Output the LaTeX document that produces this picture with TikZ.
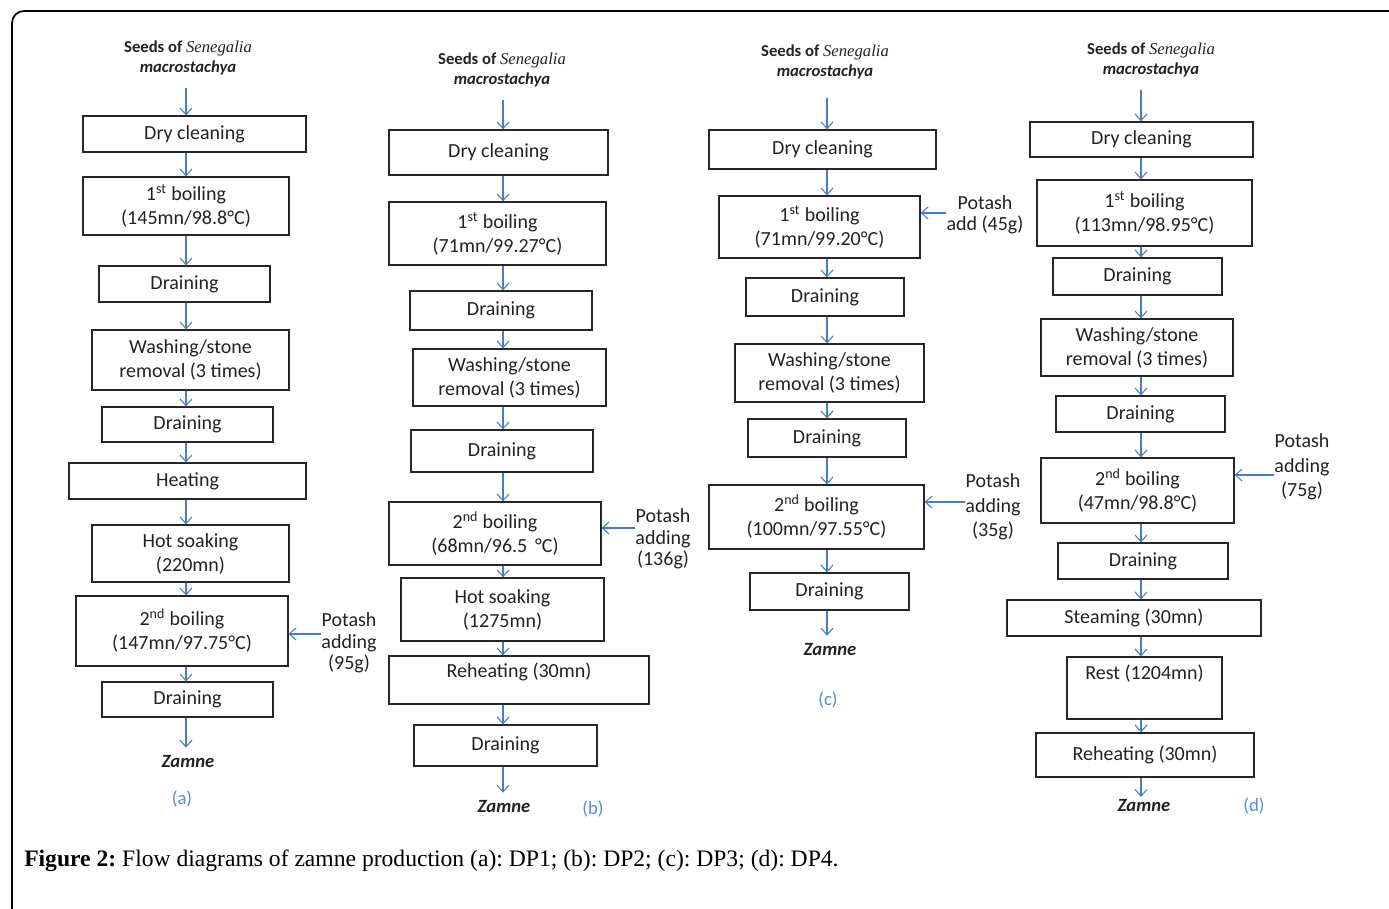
\documentclass[tikz,border=0pt]{standalone}
\usepackage{fontspec}
\setmainfont{Carlito}
\newfontfamily\capfont{Liberation Serif}
\newfontfamily\sitalfont{Liberation Serif}
\usetikzlibrary{arrows.meta}
\definecolor{arrblue}{HTML}{4A7EBB}
\definecolor{lblblue}{HTML}{5B8BD0}
\definecolor{txt}{HTML}{222222}
\newcommand\bx[6]{\node[box, minimum width={(#4-#2)*0.75pt}, minimum height={(#5-#3)*0.75pt}] (#1) at ({(#2+#4)/2},{(#3+#5)/2}) {#6};}
\newcommand\ttl{\textbf{Seeds of} {\sitalfont\itshape Senegalia}\\\textbf{\itshape macrostachya}}
\frenchspacing
\begin{document}
\begin{tikzpicture}[x=0.75pt,y=-0.75pt,
  box/.style={draw=black!85, line width=0.9pt, text=txt, font=\fontsize{15}{18}\selectfont, align=center, inner sep=0pt},
  arr/.style={draw=arrblue, line width=0.8pt, -{Straight Barb[length=5pt,width=9pt]}},
  ttlsty/.style={text=txt, font=\fontsize{12.5}{15.5}\selectfont, align=center, inner sep=0pt},
  zam/.style={text=txt, font=\fontsize{14}{16}\selectfont\bfseries\itshape, inner sep=0pt},
  lbl/.style={text=lblblue, font=\fontsize{14}{16}\selectfont, inner sep=0pt},
  pot/.style={text=txt, font=\fontsize{15}{16}\selectfont, align=center, inner sep=0pt},
  potw/.style={pot, font=\fontsize{15}{18.5}\selectfont}]
\useasboundingbox (0,0) rectangle (1389,909);
\draw[line width=1.3pt, rounded corners=9pt] (12,912) -- (12,11) -- (1392,11);
% coordinates for arrow columns
\coordinate (xa) at (186,0);
\coordinate (xb) at (503,0);
\coordinate (xc) at (827,0);
\coordinate (xd) at (1141,0);
% ---------- (a)
\node[ttlsty] (a0) at (188,58) {\ttl};
\bx{a1}{83}{116}{306}{152}{Dry cleaning}
\bx{a2}{83}{177}{289}{235}{1\textsuperscript{st} boiling\\(145mn/98.8°C)}
\bx{a3}{99}{266}{270}{302}{Draining}
\bx{a4}{92}{330}{289}{390}{Washing/stone\\removal (3 times)}
\bx{a5}{102}{407}{273}{442}{Draining}
\bx{a6}{69}{463}{306}{499}{Heating}
\bx{a7}{92}{525}{289}{582}{Hot soaking\\(220mn)}
\bx{a8}{76}{596}{288}{666}{2\textsuperscript{nd} boiling\\(147mn/97.75°C)}
\bx{a9}{102}{682}{273}{717}{Draining}
\node[zam] (az) at (188,762) {Zamne};
\node[lbl] (al) at (182,799) {(a)};
\node[pot] (ap) at (349,643) {Potash\\adding\\(95g)};
\draw[arr, shorten <=9pt] (a0.south -| xa) -- (a1.north -| xa);
\foreach \s/\t in {a1/a2,a2/a3,a3/a4,a4/a5,a5/a6,a6/a7,a7/a8,a8/a9}
  \draw[arr] (\s.south -| xa) -- (\t.north -| xa);
\draw[arr, shorten >=6pt] (a9.south -| xa) -- (az.north -| xa);
\draw[arr] (ap.west |- 0,634) -- (a8.east |- 0,634);
% ---------- (b)
\node[ttlsty] (b0) at (502,70) {\ttl};
\bx{b1}{389}{130}{608}{175}{Dry cleaning}
\bx{b2}{389}{202}{606}{265}{1\textsuperscript{st} boiling\\(71mn/99.27°C)}
\bx{b3}{410}{291}{592}{330}{Draining}
\bx{b4}{413}{349}{606}{406}{Washing/stone\\removal (3 times)}
\bx{b5}{411}{430}{593}{472}{Draining}
\bx{b6}{389}{502}{601}{565}{2\textsuperscript{nd} boiling\\(68mn/96.5 \,°C)}
\bx{b7}{401}{578}{604}{641}{Hot soaking\\(1275mn)}
\bx{b8}{389}{656}{649}{704}{Reheating (30mn)\\[-8pt]\strut}
\bx{b9}{414}{725}{597}{766}{Draining}
\node[zam] (bz) at (504,807) {Zamne};
\node[lbl] (bl) at (593,809) {(b)};
\node[pot] (bp) at (663,539) {Potash\\adding\\(136g)};
\draw[arr, shorten <=9pt] (b0.south -| xb) -- (b1.north -| xb);
\foreach \s/\t in {b1/b2,b2/b3,b3/b4,b4/b5,b5/b6,b6/b7,b7/b8,b8/b9}
  \draw[arr] (\s.south -| xb) -- (\t.north -| xb);
\draw[arr, shorten >=6pt] (b9.south -| xb) -- (bz.north -| xb);
\draw[arr] (bp.west |- 0,528) -- (b6.east |- 0,528);
% ---------- (c)
\node[ttlsty] (c0) at (825,62) {\ttl};
\bx{c1}{709}{130}{936}{169}{Dry cleaning}
\bx{c2}{719}{196}{920}{258}{1\textsuperscript{st} boiling\\(71mn/99.20°C)}
\bx{c3}{746}{278}{904}{316}{Draining}
\bx{c4}{735}{344}{924}{402}{Washing/stone\\removal (3 times)}
\bx{c5}{748}{419}{906}{457}{Draining}
\bx{c6}{709}{485}{924}{549}{2\textsuperscript{nd} boiling\\(100mn/97.55°C)}
\bx{c7}{750}{573}{909}{610}{Draining}
\node[zam] (cz) at (830,650) {Zamne};
\node[lbl] (cl) at (828,700) {(c)};
\node[pot] (cp1) at (985,215) {Potash\\add (45g)};
\node[potw] (cp2) at (993,507) {Potash\\adding\\(35g)};
\draw[arr, shorten <=14pt] (c0.south -| xc) -- (c1.north -| xc);
\foreach \s/\t in {c1/c2,c2/c3,c3/c4,c4/c5,c5/c6,c6/c7}
  \draw[arr] (\s.south -| xc) -- (\t.north -| xc);
\draw[arr, shorten >=6pt] (c7.south -| xc) -- (cz.north -| xc);
\draw[arr] (cp1.west |- 0,213) -- (c2.east |- 0,213);
\draw[arr] (cp2.west |- 0,502) -- (c6.east |- 0,502);
% ---------- (d)
\node[ttlsty] (d0) at (1151,60) {\ttl};
\bx{d1}{1030}{122}{1253}{157}{Dry cleaning}
\bx{d2}{1037}{180}{1252}{246}{1\textsuperscript{st} boiling\\(113mn/98.95°C)}
\bx{d3}{1053}{258}{1222}{295}{Draining}
\bx{d4}{1041}{319}{1233}{376}{Washing/stone\\removal (3 times)}
\bx{d5}{1056}{396}{1225}{432}{Draining}
\bx{d6}{1041}{458}{1234}{523}{2\textsuperscript{nd} boiling\\(47mn/98.8°C)}
\bx{d7}{1058}{543}{1228}{579}{Draining}
\bx{d8}{1007}{600}{1261}{636}{Steaming (30mn)}
\bx{d9}{1067}{657}{1222}{719}{Rest (1204mn)\\\strut}
\bx{d10}{1036}{733}{1254}{777}{Reheating (30mn)}
\node[zam] (dz) at (1144,806) {Zamne};
\node[lbl] (dl) at (1254,806) {(d)};
\node[potw] (dp) at (1302,467) {Potash\\adding\\(75g)};
\draw[arr, shorten <=9pt] (d0.south -| xd) -- (d1.north -| xd);
\foreach \s/\t in {d1/d2,d2/d3,d3/d4,d4/d5,d5/d6,d6/d7,d7/d8,d8/d9,d9/d10}
  \draw[arr] (\s.south -| xd) -- (\t.north -| xd);
\draw[arr, shorten >=2pt] (d10.south -| xd) -- (dz.north -| xd);
\draw[arr] (dp.west |- 0,475) -- (d6.east |- 0,475);
% ---------- caption
\node[anchor=west, inner sep=0pt, font=\capfont\fontsize{17.7}{20}\selectfont] (cap) at (24,861) {\textbf{Figure 2:} Flow diagrams of zamne production (a): DP1; (b): DP2; (c): DP3; (d): DP4.};
\end{tikzpicture}
\end{document}
